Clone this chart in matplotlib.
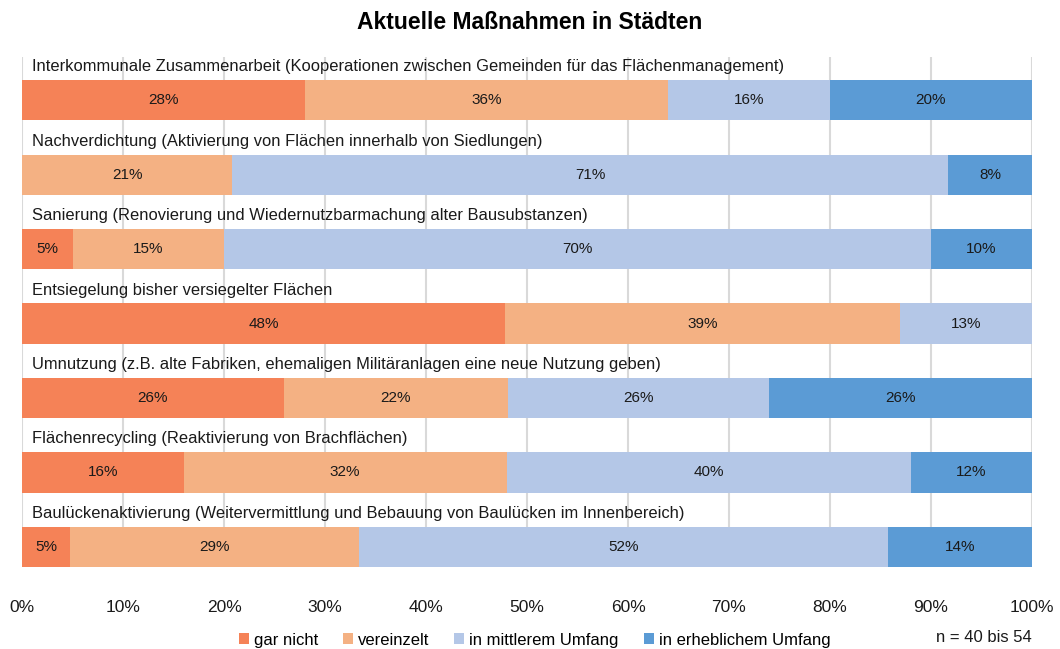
import matplotlib.pyplot as plt

plt.rcParams['font.family'] = ['Liberation Sans', 'DejaVu Sans']

categories = [
    "Interkommunale Zusammenarbeit (Kooperationen zwischen Gemeinden für das Flächenmanagement)",
    "Nachverdichtung (Aktivierung von Flächen innerhalb von Siedlungen)",
    "Sanierung (Renovierung und Wiedernutzbarmachung alter Bausubstanzen)",
    "Entsiegelung bisher versiegelter Flächen",
    "Umnutzung (z.B. alte Fabriken, ehemaligen Militäranlagen eine neue Nutzung geben)",
    "Flächenrecycling (Reaktivierung von Brachflächen)",
    "Baulückenaktivierung (Weitervermittlung und Bebauung von Baulücken im Innenbereich)",
]
series = ["gar nicht", "vereinzelt", "in mittlerem Umfang", "in erheblichem Umfang"]
gar_nicht = [28.0, 0.0, 5.0, 47.8, 25.9, 16.0, 4.8]
vereinzelt = [36.0, 20.8, 15.0, 39.1, 22.2, 32.0, 28.6]
mittlerer = [16.0, 70.9, 70.0, 13.1, 25.9, 40.0, 52.3]
erheblich = [20.0, 8.3, 10.0, 0.0, 26.0, 12.0, 14.3]
colors = ["#F58257", "#F4B183", "#B4C7E7", "#5B9BD5"]

fig = plt.figure(figsize=(10.6, 6.49), dpi=100)
ax = fig.add_axes([22 / 1060, 82 / 649, 1010 / 1060, 510 / 649])

ys = list(range(len(categories)))
left = [0.0] * len(categories)
for name, vals, col in zip(series, [gar_nicht, vereinzelt, mittlerer, erheblich], colors):
    ax.barh(ys, vals, left=left, height=0.54, color=col, label=name, zorder=2)
    for y, v, l in zip(ys, vals, left):
        if v > 0:
            ax.text(l + v / 2, y, f"{round(v)}%", ha='center', va='center',
                    fontsize=11, color='#1a1a1a', zorder=3)
    left = [a + b for a, b in zip(left, vals)]

for y, cat in zip(ys, categories):
    ax.text(1.0, y - 0.45, cat, ha='left', va='center', fontsize=11.9, color='#1a1a1a')

ax.set_xlim(0, 100)
ax.set_ylim(6.27, -0.58)
ax.set_xticks(range(0, 101, 10))
ax.set_xticklabels([f"{t}%" for t in range(0, 101, 10)], fontsize=12.5, color='#1a1a1a')
ax.set_yticks([])
ax.tick_params(axis='x', length=0, pad=24)
ax.grid(axis='x', color='#D9D9D9', linewidth=1.5, zorder=0)
for s in ax.spines.values():
    s.set_visible(False)

fig.suptitle("Aktuelle Maßnahmen in Städten", y=0.983, fontsize=16.5, fontweight='bold')
fig.legend(loc='lower left', bbox_to_anchor=(232 / 1060, -0.008), ncol=4, frameon=False,
           fontsize=12, handlelength=0.6, handleheight=0.6, handletextpad=0.3,
           columnspacing=1.5, borderaxespad=0)
fig.text(1032 / 1060, 11 / 649, "n = 40 bis 54", ha='right', va='center', fontsize=12,
         color='#1a1a1a')

fig.savefig("out.png", dpi=100)
